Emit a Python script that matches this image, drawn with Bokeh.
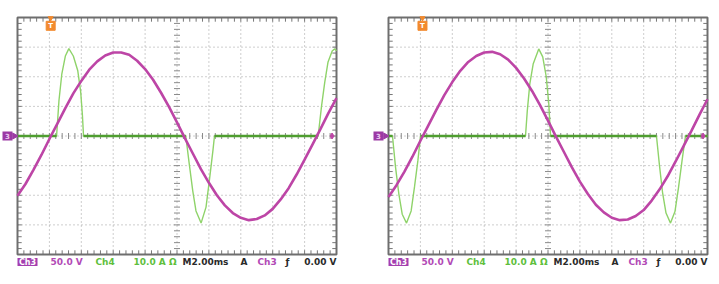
import numpy as np
from bokeh.plotting import figure
from bokeh.models import Range1d
from bokeh.layouts import row
from bokeh.embed import file_html
from bokeh.resources import INLINE
from bokeh.core.properties import value

# ---------------- data ----------------
# time axis: 2 ms/div, 10 divisions
time_ms = [0.0, 0.5, 1.0, 1.5, 2.0, 2.5, 3.0, 3.5, 4.0, 4.5, 5.0, 5.5, 6.0, 6.5,
           7.0, 7.5, 8.0, 8.5, 9.0, 9.5, 10.0, 10.5, 11.0, 11.5, 12.0, 12.5,
           13.0, 13.5, 14.0, 14.5, 15.0, 15.5, 16.0, 16.5, 17.0, 17.5, 18.0,
           18.5, 19.0, 19.5, 20.0]
# Ch3 voltage (V), 50 V/div
volts_left = [-101, -81, -57, -32, -5, 21, 47, 72, 93, 112, 126, 136, 141, 141,
              137, 127, 113, 95, 73, 49, 23, -4, -30, -56, -79, -100, -117, -130,
              -138, -142, -140, -134, -123, -107, -88, -65, -40, -14, 12, 39, 64]
volts_right = [-103, -83, -60, -35, -8, 18, 44, 69, 91, 110, 125, 135, 141, 142,
               138, 129, 115, 97, 76, 52, 26, -1, -27, -53, -77, -98, -116, -129,
               -138, -142, -141, -135, -125, -109, -90, -68, -43, -17, 9, 36, 62]

# Ch4 current (A), 10 A/div  -- left screen
amps_left_t = [0.0, 2.45, 2.60, 2.78, 3.00, 3.22, 3.50, 3.78, 3.96, 4.07, 4.14,
               10.55, 10.77, 10.99, 11.19, 11.51, 11.82, 12.03, 12.25, 12.35,
               18.85, 19.06, 19.26, 19.47, 19.73, 19.89, 20.0]
amps_left = [0, 0, 12, 21, 27, 29.5, 27, 22, 15, 7, 0,
             0, -9.5, -18.6, -25.3, -29.4, -24, -15, -5, 0,
             0, 10, 18, 25, 28.7, 29.4, 28.8]
# Ch4 current (A) -- right screen
amps_right_t = [0.0, 0.25, 0.44, 0.65, 0.86, 1.13, 1.42, 1.63, 1.84, 2.01,
                8.59, 8.70, 8.86, 9.07, 9.42, 9.67, 9.89, 10.05, 10.16,
                16.80, 16.99, 17.18, 17.40, 17.68, 17.96, 18.18, 18.40, 18.62, 20.0]
amps_right = [0, 0, -10.5, -19.6, -26.4, -29.4, -25.3, -17.2, -8.4, 0,
              0, 8.4, 17.6, 24.3, 29.4, 26.7, 20, 10.8, 0,
              0, -10, -19, -26, -29.4, -25.5, -17.5, -8.5, 0, 0]

trigger_ms_left = 2.08
trigger_ms_right = 2.13

status_items = [  # (text, colour)
    ("50.0 V", "purple"), ("Ch4", "green"), ("10.0 A Ω", "green"),
    ("M2.00ms", "black"), ("A", "black"), ("Ch3", "purple"), ("ƒ", "black"),
    ("0.00 V", "black"),
]

# ---------------- styling ----------------
MAG = "#bd45a6"
GREEN_LIGHT = "#8fd36a"
GREEN_DARK = "#4f9e30"
ORANGE = "#f28a2e"
TXT = {"purple": "#b24ab6", "green": "#5fbf3d", "black": "#2a2a2a"}
FONT = "DejaVu Sans"

SCREEN_W = 319
SCREEN_H = 237
PX_MS = 20.0 / SCREEN_W      # ms per pixel
PX_V = 400.0 / SCREEN_H      # volts per pixel
PX_A = 80.0 / SCREEN_H       # amps per pixel


def make_panel(width, left_px, t, v, ct, ci, trig):
    top_px, height = 17, 284
    x0 = -left_px * PX_MS
    x1 = (width - left_px) * PX_MS
    y1 = 200 + top_px * PX_V
    y0 = y1 - height * PX_V
    p = figure(width=width, height=height, x_range=Range1d(x0, x1),
               y_range=Range1d(y0, y1), output_backend="svg",
               toolbar_location=None, x_axis_location=None, y_axis_location=None,
               min_border=0, outline_line_color=None,
               background_fill_color="white", border_fill_color="white")
    p.extra_y_ranges = {"amps": Range1d(y0 * PX_A / PX_V, y1 * PX_A / PX_V)}
    p.grid.visible = False

    # dotted graticule
    gxs = np.arange(2, 20, 2)
    gys = np.arange(-150, 200, 50)
    p.segment(x0=gxs, y0=-200, x1=gxs, y1=200, line_color="#9c9c9c",
              line_dash="1 3", line_width=1)
    p.segment(x0=0, y0=gys, x1=20, y1=gys, line_color="#9c9c9c",
              line_dash="1 3", line_width=1)

    # minor tick marks (center cross and screen border)
    xs = np.arange(0.4, 20.0, 0.4)
    ys = np.arange(-190, 200, 10)
    tx = 3 * PX_MS
    ty = 3 * PX_V
    p.segment(x0=xs, y0=-ty, x1=xs, y1=ty, line_color="#8a8a8a", line_width=1)
    p.segment(x0=10 - tx, y0=ys, x1=10 + tx, y1=ys, line_color="#8a8a8a", line_width=1)
    p.segment(x0=xs, y0=200, x1=xs, y1=200 - 1.4 * ty, line_color="#777777", line_width=1)
    p.segment(x0=xs, y0=-200, x1=xs, y1=-200 + 1.4 * ty, line_color="#777777", line_width=1)
    p.segment(x0=0, y0=ys, x1=1.4 * tx, y1=ys, line_color="#777777", line_width=1)
    p.segment(x0=20, y0=ys, x1=20 - 1.4 * tx, y1=ys, line_color="#777777", line_width=1)

    # screen border
    p.quad(left=0, right=20, bottom=-200, top=200, fill_color=None,
           line_color="#6e6e6e", line_width=2)

    # current trace
    p.line(ct, ci, y_range_name="amps", line_color=GREEN_LIGHT, line_width=1.4)
    ct_a = np.asarray(ct)
    ci_a = np.asarray(ci)
    z = (ci_a[:-1] == 0) & (ci_a[1:] == 0)
    p.segment(x0=ct_a[:-1][z], y0=0, x1=ct_a[1:][z], y1=0, y_range_name="amps",
              line_color=GREEN_DARK, line_width=2.5)

    # voltage trace
    p.line(t, v, line_color=MAG, line_width=2.6)

    # trigger marker
    p.scatter([trig], [199], marker="inverted_triangle", size=5, color=ORANGE)
    p.scatter([trig], [186], marker="square", size=9, color=ORANGE)
    p.text([trig], [186], text=["T"], text_color="white", text_font=value(FONT),
           text_font_size="7px", text_font_style="bold", text_align="center",
           text_baseline="middle")
    # right-hand level marker
    p.scatter([19.72], [0], marker="diamond", size=6, color=MAG)

    # ground marker on the left of the screen
    p.rect([-10 * PX_MS], [0], width=10 * PX_MS, height=9 * PX_V,
           fill_color="#9c3aa4", line_color=None)
    p.text([-10 * PX_MS], [0], text=["3"], text_color="#ecc9f0",
           text_font=value(FONT), text_font_size="7px", text_font_style="bold",
           text_align="center", text_baseline="middle")
    p.scatter([-3 * PX_MS], [0], marker="triangle", angle=-np.pi / 2,
              size=6, color="#9c3aa4")

    # status bar
    ybar = -200 - 7.5 * PX_V
    p.rect([10 * PX_MS], [ybar], width=20 * PX_MS, height=8 * PX_V,
           fill_color="#a43fb0", line_color=None)
    p.text([10 * PX_MS], [ybar], text=["Ch3"], text_color="white",
           text_font=value(FONT), text_font_size="8px", text_font_style="bold",
           text_align="center", text_baseline="middle")
    positions = [33, 78, 116, 165, 223, 240, 268, 319]
    for (txt, col), px in zip(status_items, positions):
        align = "right" if txt == "0.00 V" else "left"
        p.text([px * PX_MS], [ybar], text=[txt], text_color=TXT[col],
               text_font=value(FONT), text_font_size="9px",
               text_font_style="bold", text_baseline="middle",
               text_align=align)
    return p


p1 = make_panel(360, 17, time_ms, volts_left, amps_left_t, amps_left,
                trigger_ms_left)
p2 = make_panel(359, 28, time_ms, volts_right, amps_right_t, amps_right,
                trigger_ms_right)

layout = row(p1, p2)
with open("out.html", "w") as f:
    f.write(file_html(layout, INLINE))
